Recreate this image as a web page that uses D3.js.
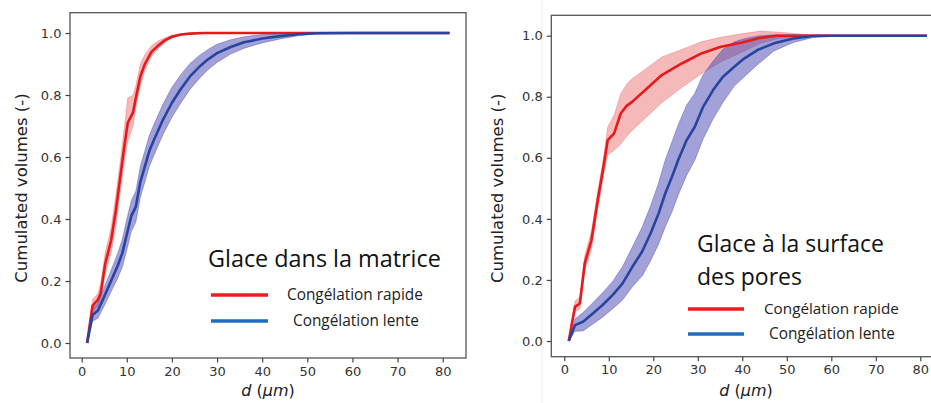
<!DOCTYPE html>
<html><head><meta charset="utf-8">
<script src="https://cdn.jsdelivr.net/npm/d3@7"></script>
<style>
html,body{margin:0;padding:0;background:#fff;overflow:hidden}
svg{display:block}
.tick text{font-family:"DejaVu Sans",sans-serif;font-size:13px;fill:#333}
.tick line{stroke:#444;stroke-width:1.2}
</style></head>
<body>
<svg id="c" width="931" height="403"></svg>
<script>
// ---------- DATA ----------
const xTicks = [0,10,20,30,40,50,60,70,80];
const yTicks = [0,0.2,0.4,0.6,0.8,1.0];
const seriesNames = ["Congélation rapide","Congélation lente"];
const panelTitles = [["Glace dans la matrice"],["Glace à la surface","des pores"]];

// Left panel – rapide
const dLR = [1.2,2.4,3.6,4.2,5.2,6.5,7.5,8.5,9.5,10.2,11.4,12,13,14,15.5,17,18.5,20,22,24,27,30,40,60,81.5];
const vLR = [0,0.12,0.14,0.16,0.255,0.33,0.42,0.53,0.64,0.71,0.745,0.79,0.86,0.9,0.94,0.96,0.977,0.988,0.995,0.998,1,1,1,1,1];
const loLR = [0,0.10,0.12,0.14,0.22,0.29,0.37,0.48,0.59,0.65,0.70,0.76,0.83,0.88,0.925,0.95,0.97,0.984,0.993,0.997,1,1,1,1,1];
const hiLR = [0,0.14,0.16,0.19,0.29,0.37,0.47,0.58,0.70,0.79,0.80,0.83,0.90,0.93,0.96,0.975,0.985,0.993,0.997,0.999,1,1,1,1,1];
// Left panel – lente
const dLL = [1.2,2.4,3.6,5,6.5,8,9,10,11,12,13,14,15,16,18,20,22,24,26,28,30,33,36,40,44,48,52,60,81.5];
const vLL = [0,0.09,0.105,0.15,0.2,0.25,0.29,0.35,0.41,0.44,0.52,0.57,0.62,0.655,0.72,0.775,0.82,0.86,0.89,0.915,0.935,0.955,0.97,0.982,0.99,0.996,0.999,1,1];
const loLL = [0,0.07,0.08,0.12,0.165,0.21,0.245,0.30,0.36,0.39,0.47,0.52,0.57,0.605,0.672,0.728,0.775,0.818,0.852,0.882,0.905,0.932,0.951,0.968,0.981,0.991,0.997,1,1];
const hiLL = [0,0.11,0.13,0.18,0.235,0.29,0.335,0.40,0.46,0.49,0.57,0.62,0.67,0.705,0.77,0.825,0.866,0.902,0.927,0.947,0.964,0.978,0.988,0.995,0.998,1,1,1,1];
// Right panel – rapide
const dRR = [1.0,2.4,3.5,4.6,6.1,7.5,8.8,9.75,11.2,12.7,14,15.3,18.2,21.9,26.4,30.8,35.2,39.7,44.1,47.8,55,65,81.5];
const vRR = [0,0.112,0.123,0.254,0.33,0.46,0.57,0.658,0.68,0.746,0.77,0.784,0.822,0.871,0.909,0.942,0.964,0.977,0.993,1.0,1,1,1];
const loRR = [0,0.095,0.105,0.23,0.30,0.43,0.54,0.61,0.625,0.645,0.67,0.69,0.73,0.78,0.83,0.875,0.915,0.945,0.975,0.99,1,1,1];
const hiRR = [0,0.13,0.145,0.28,0.36,0.49,0.60,0.70,0.74,0.81,0.84,0.86,0.89,0.93,0.955,0.98,0.995,1.006,1.015,1.012,1.003,1,1];
// Right panel – lente
const dRL = [1.0,2.4,4.2,6.4,8.6,10.9,13.1,15.3,17.5,19.4,21.2,22.7,24.2,25.6,27.5,29.3,31.2,33.4,35.6,38.2,40.4,43.4,47.1,51.5,55.9,60,81.5];
const vRL = [0,0.052,0.063,0.09,0.118,0.151,0.189,0.243,0.293,0.353,0.418,0.484,0.538,0.593,0.658,0.701,0.767,0.821,0.865,0.898,0.925,0.953,0.975,0.991,0.999,1,1];
const loRL = [0,0.032,0.033,0.055,0.078,0.106,0.134,0.178,0.213,0.263,0.318,0.374,0.423,0.478,0.543,0.591,0.662,0.726,0.78,0.835,0.865,0.905,0.95,0.978,0.994,0.998,1];
const hiRL = [0,0.072,0.093,0.125,0.158,0.196,0.244,0.308,0.373,0.443,0.518,0.594,0.653,0.708,0.773,0.811,0.872,0.916,0.955,0.98,0.99,0.999,1.003,1.003,1.002,1.001,1];

// ---------- STYLE / LAYOUT ----------
const RED = "#e8191c", RED_BAND = "rgba(232,70,70,0.38)";
const BLUE = "#28449e", BLUE_BAND = "rgba(60,60,175,0.48)";
const LEG_RED = "#ee1c1c", LEG_BLUE = "#1f6cc0";
const TFONT = "'Open Sans', Lato, sans-serif";

const panels = [
  {frame:{x:70,y:12.7,w:396,h:345.3}, xr:[81.7,442.7], yr:[343,33], ylabX:22, xlabX:268,
   series:[{d:dLR,v:vLR,lo:loLR,hi:hiLR,c:RED,b:RED_BAND},{d:dLL,v:vLL,lo:loLL,hi:hiLL,c:BLUE,b:BLUE_BAND}],
   title:{x:208,y:[267],tw:233}, leg:{x1:211,x2:268,y:[295,321],tx:[287,293],ty:[300,326],tw:[136,126]}},
  {frame:{x:551.3,y:15.3,w:400,h:341.4}, xr:[564.3,920.3], yr:[341,35.7], ylabX:498, xlabX:746,
   series:[{d:dRR,v:vRR,lo:loRR,hi:hiRR,c:RED,b:RED_BAND},{d:dRL,v:vRL,lo:loRL,hi:hiRL,c:BLUE,b:BLUE_BAND}],
   title:{x:697,y:[252,285],tw:187}, leg:{x1:688,x2:744,y:[309,334],tx:[764,769],ty:[314,339],tw:[135,126]}}
];

function fitText(sel, target){
  const n = sel.node(); const fs = +sel.attr("font-size");
  const w = n.getComputedTextLength();
  if (w>0) sel.attr("font-size", fs*target/w);
}

const svg = d3.select("#c");
svg.append("line").attr("x1",542).attr("x2",542).attr("y1",0).attr("y2",403).attr("stroke","#ececec").attr("stroke-width",1);

panels.forEach((p,pi)=>{
  const g = svg.append("g");
  const x = d3.scaleLinear().domain([0,80]).range(p.xr);
  const y = d3.scaleLinear().domain([0,1]).range(p.yr);

  p.series.forEach(s=>{
    const pts = s.d.map((d,i)=>({d, lo:s.lo[i], hi:s.hi[i]}));
    const area = d3.area().x(q=>x(q.d)).y0(q=>y(q.lo)).y1(q=>y(q.hi));
    g.append("path").datum(pts).attr("d",area).attr("fill",s.b).attr("stroke",s.b).attr("stroke-width",0.8);
  });
  p.series.forEach(s=>{
    const pts = s.d.map((d,i)=>({d, v:s.v[i]}));
    const line = d3.line().x(q=>x(q.d)).y(q=>y(q.v));
    g.append("path").datum(pts).attr("d",line).attr("fill","none").attr("stroke",s.c).attr("stroke-width",2.6).attr("stroke-linejoin","round");
  });

  g.append("rect").attr("x",p.frame.x).attr("y",p.frame.y).attr("width",p.frame.w).attr("height",p.frame.h)
    .attr("fill","none").attr("stroke","#555").attr("stroke-width",1.3);

  const ax = g.append("g").attr("transform",`translate(0,${p.frame.y+p.frame.h})`)
    .call(d3.axisBottom(x).tickValues(xTicks).tickSize(4.5).tickPadding(4).tickFormat(d3.format("d")));
  ax.select(".domain").remove();
  const ay = g.append("g").attr("transform",`translate(${p.frame.x},0)`)
    .call(d3.axisLeft(y).tickValues(yTicks).tickSize(4.5).tickPadding(4).tickFormat(d3.format(".1f")));
  ay.select(".domain").remove();

  g.append("text").attr("transform",`translate(${p.ylabX},${(p.yr[0]+p.yr[1])/2}) rotate(-90)`)
    .attr("text-anchor","middle").attr("dominant-baseline","middle")
    .attr("font-family","DejaVu Sans, sans-serif").attr("font-size",16.5).attr("fill","#222")
    .text("Cumulated volumes (-)");
  const xl = g.append("text").attr("x",p.xlabX).attr("y",396).attr("text-anchor","middle")
    .attr("font-family","DejaVu Sans, sans-serif").attr("font-size",16).attr("fill","#222");
  xl.append("tspan").attr("font-style","italic").text("d");
  xl.append("tspan").text(" (");
  xl.append("tspan").attr("font-style","italic").text("μm");
  xl.append("tspan").text(")");

  const titles = panelTitles[pi].map((t,i)=> g.append("text").attr("x",p.title.x).attr("y",p.title.y[i])
      .attr("font-family",TFONT).attr("font-size",22).attr("fill","#111").text(t));
  fitText(titles[0], p.title.tw);
  titles.forEach(t=>t.attr("font-size", titles[0].attr("font-size")));

  [LEG_RED,LEG_BLUE].forEach((c,i)=>{
    g.append("line").attr("x1",p.leg.x1).attr("x2",p.leg.x2).attr("y1",p.leg.y[i]).attr("y2",p.leg.y[i])
      .attr("stroke",c).attr("stroke-width",3.6);
    const lt = g.append("text").attr("x",p.leg.tx[i]).attr("y",p.leg.ty[i])
      .attr("font-family",TFONT).attr("font-size",15).attr("fill","#222").text(seriesNames[i]);
    fitText(lt, p.leg.tw[i]);
  });
});
</script>
</body></html>
